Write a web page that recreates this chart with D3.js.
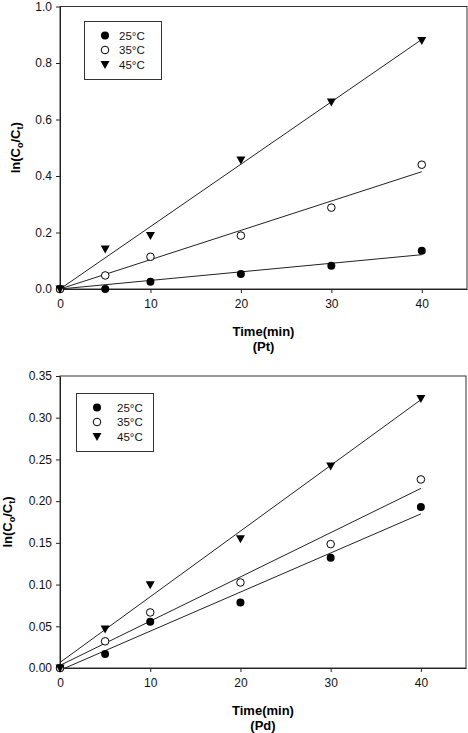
<!DOCTYPE html>
<html><head><meta charset="utf-8">
<script src="https://cdn.jsdelivr.net/npm/d3@7"></script>
<style>
body{margin:0;background:#fff;}
svg{display:block;font-family:"Liberation Sans",Arial,sans-serif;}
</style></head>
<body>
<svg id="c" width="468" height="733"></svg>
<script>
// ---- data ----
const times = [0, 5, 10, 20, 30, 40];
const seriesNames = ["25°C", "35°C", "45°C"];
const pt25 = [0, 0.000, 0.026, 0.053, 0.082, 0.135];
const pt35 = [0, 0.048, 0.114, 0.189, 0.288, 0.440];
const pt45 = [0, 0.142, 0.189, 0.457, 0.662, 0.880];
const pd25 = [0, 0.0168, 0.0555, 0.0786, 0.132, 0.193];
const pd35 = [0, 0.032, 0.0666, 0.1025, 0.1485, 0.226];
const pd45 = [0, 0.0467, 0.0998, 0.155, 0.242, 0.323];
const xTicks = [0, 10, 20, 30, 40];
const ptYTicks = [0, 0.2, 0.4, 0.6, 0.8, 1.0];
const pdYTicks = [0, 0.05, 0.10, 0.15, 0.20, 0.25, 0.30, 0.35];

const svg = d3.select("#c");

function fitOrigin(xs, ys){
  const sxy = d3.sum(xs, (x,i)=>x*ys[i]), sxx = d3.sum(xs, x=>x*x);
  return {a:0, b:sxy/sxx};
}
function fitOLS(xs, ys){
  const mx = d3.mean(xs), my = d3.mean(ys);
  const sxy = d3.sum(xs,(x,i)=>(x-mx)*(ys[i]-my)), sxx = d3.sum(xs,x=>(x-mx)*(x-mx));
  const b = sxy/sxx; return {a: my - b*mx, b};
}

function panel(cfg){
  const {L,R,T,B,yMax,yTicks,yFmt,series,fit,label,legend,ylabX,id} = cfg;
  const x = d3.scaleLinear().domain([0,45]).range([L,R]);
  const y = d3.scaleLinear().domain([0,yMax]).range([B,T]);
  const g = svg.append("g");
  g.append("clipPath").attr("id",id).append("rect")
    .attr("x",L).attr("y",T).attr("width",R-L).attr("height",B-T);
  // frame
  g.append("rect").attr("x",L).attr("y",T).attr("width",R-L).attr("height",B-T)
    .attr("fill","none").attr("stroke","#333").attr("stroke-width",1);
  // axes
  const xa = g.append("g").attr("transform",`translate(0,${B})`)
    .call(d3.axisBottom(x).tickValues(xTicks).tickSize(4).tickSizeOuter(0).tickPadding(6).tickFormat(d3.format("d")));
  const ya = g.append("g").attr("transform",`translate(${L},0)`)
    .call(d3.axisLeft(y).tickValues(yTicks).tickSize(4).tickSizeOuter(0).tickPadding(4).tickFormat(d3.format(yFmt)));
  [xa,ya].forEach(a=>{
    a.selectAll("text").attr("font-size",12).attr("fill","#111").attr("font-family","Liberation Sans, Arial, sans-serif");
    a.selectAll("line").attr("stroke","#222");
    a.select(".domain").attr("stroke","#222");
  });
  // fit lines
  const lines = g.append("g").attr("clip-path",`url(#${id})`);
  series.forEach(s=>{
    const f = fit(times, s.vals);
    lines.append("line")
      .attr("x1",x(0)).attr("y1",y(f.a))
      .attr("x2",x(40)).attr("y2",y(f.a+f.b*40))
      .attr("stroke","#222").attr("stroke-width",1);
  });
  // markers
  series.forEach((s,si)=>{
    times.forEach((t,i)=>drawMarker(g, si, x(t), y(s.vals[i])));
  });
  // axis titles
  g.append("text").attr("x",(L+R)/2).attr("y",B+47).attr("text-anchor","middle")
    .attr("font-size",13).attr("font-weight","bold").text("Time(min)");
  g.append("text").attr("x",(L+R)/2).attr("y",B+62).attr("text-anchor","middle")
    .attr("font-size",13).attr("font-weight","bold").text(label);
  const yl = g.append("text").attr("transform",`translate(${ylabX},${(T+B)/2}) rotate(-90)`)
    .attr("text-anchor","middle").attr("font-size",13).attr("font-weight","bold");
  yl.append("tspan").text("ln(C");
  yl.append("tspan").attr("font-size",9).attr("dy",3).text("o");
  yl.append("tspan").attr("dy",-3).text("/C");
  yl.append("tspan").attr("font-size",9).attr("dy",3).text("t");
  yl.append("tspan").attr("dy",-3).text(")");
  // legend
  const lg = g.append("g");
  lg.append("rect").attr("x",legend.x).attr("y",legend.y).attr("width",legend.w).attr("height",legend.h)
    .attr("fill","#fff").attr("stroke","#333").attr("stroke-width",1);
  seriesNames.forEach((n,i)=>{
    const cy = legend.y + 14 + i*14.5;
    drawMarker(lg, i, legend.mx, cy);
    lg.append("text").attr("x",legend.tx).attr("y",cy+4).attr("font-size",11.5).attr("fill","#111").text(n);
  });
}

function drawMarker(g, si, cx, cy){
  if (si===0) g.append("circle").attr("cx",cx).attr("cy",cy).attr("r",4).attr("fill","#000");
  else if (si===1) g.append("circle").attr("cx",cx).attr("cy",cy).attr("r",3.8).attr("fill","#fff").attr("stroke","#000").attr("stroke-width",1);
  else g.append("path").attr("d",`M${cx-4.5},${cy-3.5}L${cx+4.5},${cy-3.5}L${cx},${cy+4.5}Z`).attr("fill","#000");
}

panel({id:"c1",L:60,R:467,T:6.5,B:289,yMax:1.0,yTicks:ptYTicks,yFmt:".1f",
  series:[{vals:pt25},{vals:pt35},{vals:pt45}],fit:fitOrigin,label:"(Pt)",ylabX:20,
  legend:{x:84.5,y:21.5,w:77,h:58,mx:105,tx:119}});
panel({id:"c2",L:60,R:466,T:376,B:668,yMax:0.35,yTicks:pdYTicks,yFmt:".2f",
  series:[{vals:pd25},{vals:pd35},{vals:pd45}],fit:fitOLS,label:"(Pd)",ylabX:12,
  legend:{x:76.5,y:393.5,w:77,h:58,mx:97,tx:117}});
</script>
</body></html>
